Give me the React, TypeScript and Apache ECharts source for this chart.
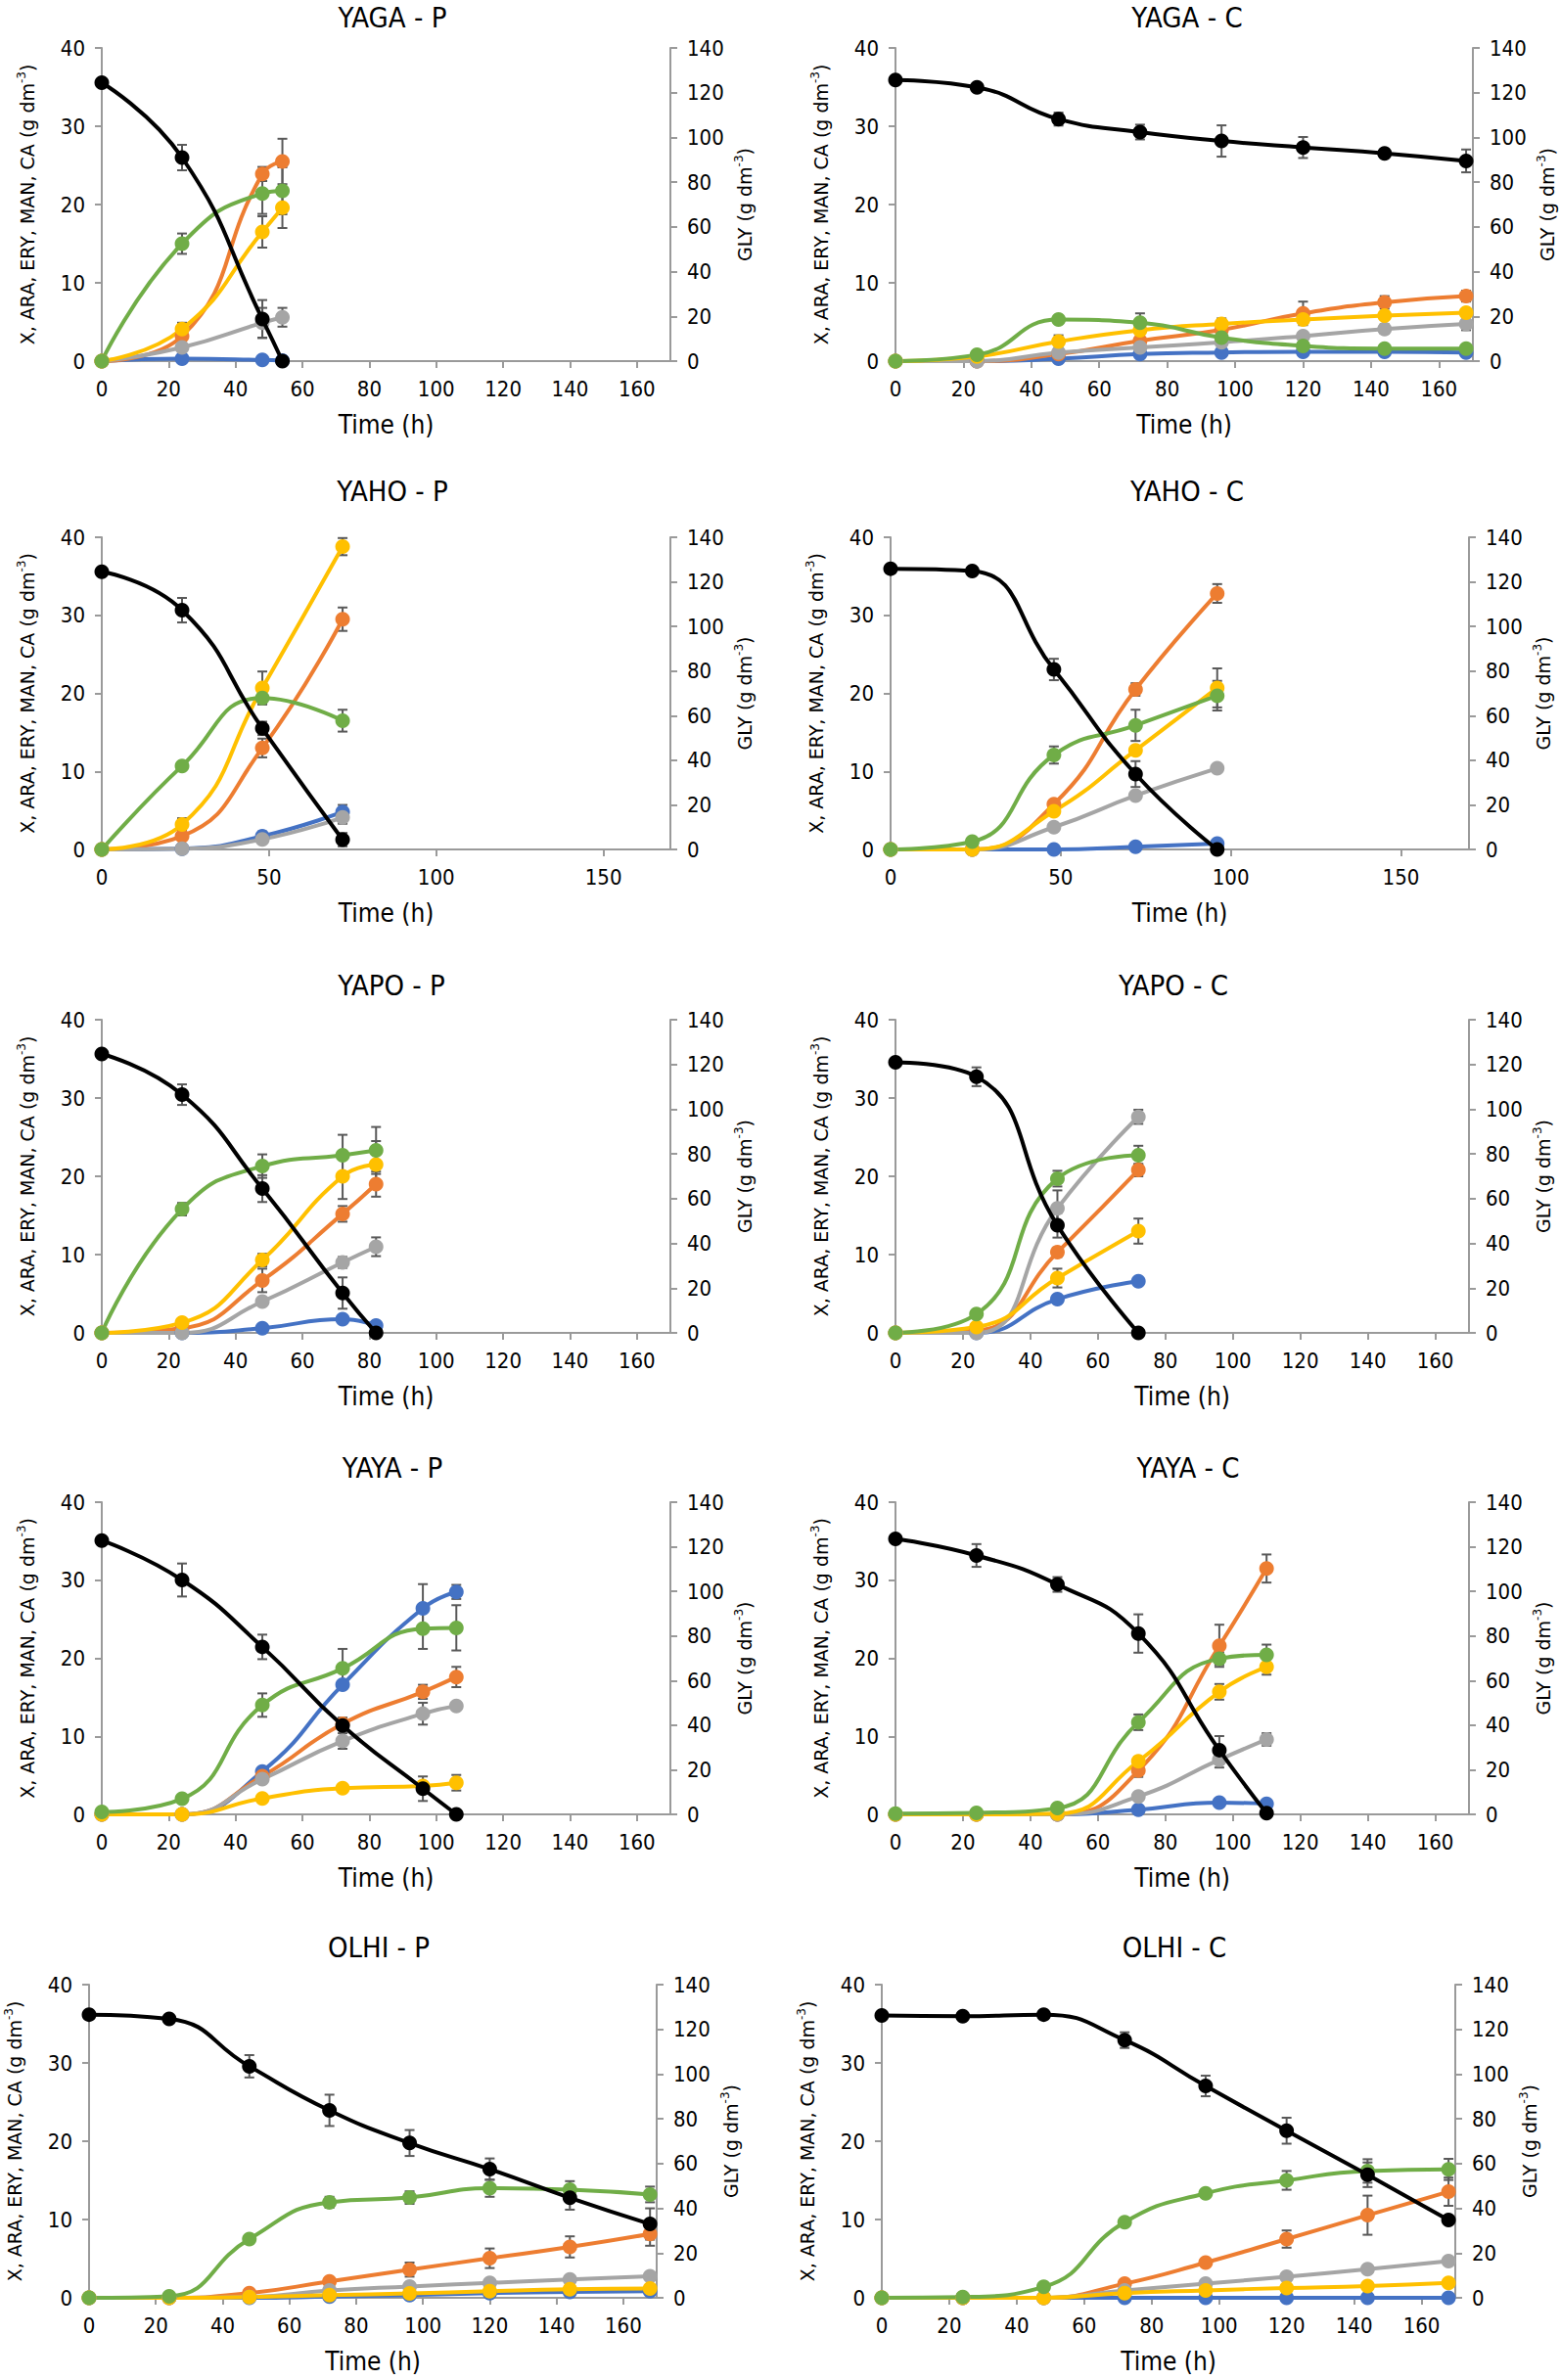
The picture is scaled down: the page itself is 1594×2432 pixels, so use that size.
import React, { useEffect, useRef } from "react";
import * as echarts from "echarts";

// ---------- tick labels ----------
const XT20 = [0, 20, 40, 60, 80, 100, 120, 140, 160];
const XT50 = [0, 50, 100, 150];
const TITLES = ["YAGA - P", "YAGA - C", "YAHO - P", "YAHO - C", "YAPO - P", "YAPO - C", "YAYA - P", "YAYA - C", "OLHI - P", "OLHI - C"];

// ---------- YAGA - P ----------
const YAGA_P_T = [0, 24, 48, 54];
const YAGA_P_B = [0, 0.3, 0.15, 0.05];
const YAGA_P_O = [0, 3.2, 23.9, 25.5];
const YAGA_P_G = [0, 1.75, 4.9, 5.6];
const YAGA_P_Y = [0, 4.1, 16.5, 19.6];
const YAGA_P_V = [0, 15.0, 21.4, 21.75];
const YAGA_P_K = [124.5, 91.0, 18.8, 0];
const YAGA_P_BE = [0, 0, 0, 0];
const YAGA_P_OE = [0, 0.6, 0.9, 2.9];
const YAGA_P_GE = [0, 0.3, 1.9, 1.2];
const YAGA_P_YE = [0, 0.8, 2.0, 2.6];
const YAGA_P_VE = [0, 1.3, 2.6, 3.0];
const YAGA_P_KE = [0, 5.7, 8.5, 0];

// ---------- YAGA - C ----------
const YAGA_C_T = [0, 24, 48, 72, 96, 120, 144, 168];
const YAGA_C_B = [0, 0, 0.3, 0.9, 1.1, 1.2, 1.2, 1.1];
const YAGA_C_O = [0, 0, 0.9, 2.6, 4.0, 6.1, 7.5, 8.3];
const YAGA_C_G = [0, 0, 1.1, 1.75, 2.4, 3.2, 4.1, 4.75];
const YAGA_C_Y = [0, 0.6, 2.5, 3.95, 4.75, 5.3, 5.8, 6.2];
const YAGA_C_V = [0, 0.8, 5.3, 4.9, 3.0, 1.95, 1.6, 1.6];
const YAGA_C_K = [125.7, 122.4, 108.2, 102.4, 98.4, 95.5, 92.9, 89.5];
const YAGA_C_BE = [0, 0, 0, 0, 0, 0, 0, 0];
const YAGA_C_OE = [0, 0, 0, 0.3, 0.5, 1.5, 0.8, 0.7];
const YAGA_C_GE = [0, 0, 0.3, 0.2, 0.3, 0.4, 0.6, 0.8];
const YAGA_C_YE = [0, 0, 0.8, 0.5, 0.7, 0.4, 0.4, 0.3];
const YAGA_C_VE = [0, 0, 0.3, 1.2, 0.4, 0.3, 0.5, 0.3];
const YAGA_C_KE = [0, 1, 2.9, 3.3, 7, 4.7, 2, 5.1];

// ---------- YAHO - P ----------
const YAHO_P_T = [0, 24, 48, 72];
const YAHO_P_B = [0, 0.1, 1.7, 4.8];
const YAHO_P_O = [0, 1.7, 13.0, 29.5];
const YAHO_P_G = [0, 0.1, 1.3, 4.1];
const YAHO_P_Y = [0, 3.2, 20.7, 38.8];
const YAHO_P_V = [0, 10.7, 19.4, 16.5];
const YAHO_P_K = [124.5, 107.3, 54.3, 4.4];
const YAHO_P_BE = [0, 0, 0.6, 0.9];
const YAHO_P_OE = [0, 0.4, 1.2, 1.5];
const YAHO_P_GE = [0, 0, 0.3, 0.8];
const YAHO_P_YE = [0, 0.8, 2.1, 1.1];
const YAHO_P_VE = [0, 0.3, 0.8, 1.4];
const YAHO_P_KE = [1.5, 5.5, 3, 3];

// ---------- YAHO - C ----------
const YAHO_C_T = [0, 24, 48, 72, 96];
const YAHO_C_B = [0, 0, 0, 0.35, 0.75];
const YAHO_C_O = [0, 0, 5.8, 20.5, 32.8];
const YAHO_C_G = [0, 0, 2.85, 6.9, 10.4];
const YAHO_C_Y = [0, 0, 4.9, 12.7, 20.7];
const YAHO_C_V = [0, 1.0, 12.1, 15.9, 19.7];
const YAHO_C_K = [125.9, 124.9, 80.7, 33.8, 0];
const YAHO_C_BE = [0, 0, 0, 0, 0];
const YAHO_C_OE = [0, 0, 0.3, 0.8, 1.2];
const YAHO_C_GE = [0, 0, 0.2, 0.3, 0.3];
const YAHO_C_YE = [0, 0, 0.3, 0.5, 2.5];
const YAHO_C_VE = [0, 0, 1.1, 2.0, 1.9];
const YAHO_C_KE = [1.5, 1, 4.8, 5.8, 0];

// ---------- YAPO - P ----------
const YAPO_P_T = [0, 24, 48, 72, 82];
const YAPO_P_B = [0, 0, 0.6, 1.75, 0.95];
const YAPO_P_O = [0, 0.6, 6.7, 15.2, 19.0];
const YAPO_P_G = [0, 0, 4.0, 9.0, 11.0];
const YAPO_P_Y = [0, 1.3, 9.3, 20.0, 21.5];
const YAPO_P_V = [0, 15.8, 21.3, 22.7, 23.3];
const YAPO_P_K = [124.7, 106.5, 64.5, 17.8, 0];
const YAPO_P_BE = [0, 0, 0, 0, 0];
const YAPO_P_OE = [0, 0.2, 1.5, 1.0, 1.6];
const YAPO_P_GE = [0, 0, 0.4, 0.7, 1.2];
const YAPO_P_YE = [0, 0.3, 0.8, 2.9, 3.0];
const YAPO_P_VE = [0, 0.8, 1.5, 2.6, 3.0];
const YAPO_P_KE = [0, 4.6, 6, 7, 0];

// ---------- YAPO - C ----------
const YAPO_C_T = [0, 24, 48, 72];
const YAPO_C_B = [0, 0, 4.3, 6.6];
const YAPO_C_O = [0, 0.3, 10.3, 20.8];
const YAPO_C_G = [0, 0, 15.9, 27.6];
const YAPO_C_Y = [0, 0.75, 7.0, 13.0];
const YAPO_C_V = [0, 2.4, 19.7, 22.7];
const YAPO_C_K = [121.0, 114.5, 48.1, 0];
const YAPO_C_BE = [0, 0, 0, 0];
const YAPO_C_OE = [0, 0, 0.6, 0.8];
const YAPO_C_GE = [0, 0, 2.3, 0.9];
const YAPO_C_YE = [0, 0, 1.2, 1.6];
const YAPO_C_VE = [0, 0.3, 1.0, 1.2];
const YAPO_C_KE = [0, 4.2, 5.5, 0];

// ---------- YAYA - P ----------
const YAYA_P_T = [0, 24, 48, 72, 96, 106];
const YAYA_P_B = [0, 0, 5.5, 16.6, 26.4, 28.5];
const YAYA_P_O = [0, 0, 4.9, 11.6, 15.7, 17.6];
const YAYA_P_G = [0, 0, 4.5, 9.4, 12.9, 13.9];
const YAYA_P_Y = [0, 0, 2.05, 3.35, 3.65, 4.05];
const YAYA_P_V = [0.3, 2.0, 14.0, 18.7, 23.8, 23.9];
const YAYA_P_K = [122.8, 105.1, 75.1, 39.8, 11.5, 0];
const YAYA_P_BE = [0, 0, 0.4, 0.5, 3.1, 0.9];
const YAYA_P_OE = [0, 0, 0.3, 0.8, 0.9, 1.3];
const YAYA_P_GE = [0, 0, 0.3, 1.0, 1.4, 0.3];
const YAYA_P_YE = [0, 0, 0.2, 0.3, 0.5, 1.0];
const YAYA_P_VE = [0, 0.2, 1.5, 2.5, 2.6, 2.9];
const YAYA_P_KE = [0, 7.4, 5.5, 2, 5.5, 0];

// ---------- YAYA - C ----------
const YAYA_C_T = [0, 24, 48, 72, 96, 110];
const YAYA_C_B = [0, 0, 0, 0.6, 1.5, 1.35];
const YAYA_C_O = [0, 0, 0, 5.6, 21.6, 31.5];
const YAYA_C_G = [0, 0, 0, 2.3, 7.0, 9.6];
const YAYA_C_Y = [0, 0, 0.1, 6.8, 15.7, 18.9];
const YAYA_C_V = [0.1, 0.2, 0.8, 11.8, 19.95, 20.45];
const YAYA_C_K = [123.5, 116.1, 103.1, 81.1, 28.8, 0.5];
const YAYA_C_BE = [0, 0, 0, 0, 0, 0];
const YAYA_C_OE = [0, 0, 0, 0.8, 2.7, 1.8];
const YAYA_C_GE = [0, 0, 0, 0.2, 1.0, 0.8];
const YAYA_C_YE = [0, 0, 0, 0.6, 1.0, 1.0];
const YAYA_C_VE = [0, 0, 0, 1.0, 0.8, 1.3];
const YAYA_C_KE = [0, 5.1, 3.3, 8.6, 6.3, 0];

// ---------- OLHI - P ----------
const OLHI_P_T = [0, 24, 48, 72, 96, 120, 144, 168];
const OLHI_P_B = [0, 0, 0, 0.15, 0.35, 0.6, 0.75, 0.85];
const OLHI_P_O = [0, 0, 0.6, 2.1, 3.6, 5.05, 6.5, 8.15];
const OLHI_P_G = [0, 0, 0.1, 0.95, 1.45, 1.9, 2.35, 2.75];
const OLHI_P_Y = [0, 0, 0.1, 0.35, 0.55, 0.85, 1.1, 1.2];
const OLHI_P_V = [0, 0.2, 7.5, 12.2, 12.8, 14.0, 13.8, 13.2];
const OLHI_P_K = [126.6, 124.7, 103.5, 83.8, 69.2, 57.5, 44.7, 33.0];
const OLHI_P_BE = [0, 0, 0, 0, 0, 0, 0, 0];
const OLHI_P_OE = [0, 0, 0.2, 0.3, 0.9, 1.25, 1.35, 1.5];
const OLHI_P_GE = [0, 0, 0, 0, 0, 0, 0, 0];
const OLHI_P_YE = [0, 0, 0, 0, 0, 0, 0, 0];
const OLHI_P_VE = [0, 0, 0.3, 0.7, 0.8, 1.1, 1.1, 1.0];
const OLHI_P_KE = [0, 0, 5, 7, 5.8, 4.8, 5.3, 7];

// ---------- OLHI - C ----------
const OLHI_C_T = [0, 24, 48, 72, 96, 120, 144, 168];
const OLHI_C_B = [0, 0, 0, 0, 0, 0, 0, 0];
const OLHI_C_O = [0, 0, 0, 1.8, 4.5, 7.5, 10.55, 13.55];
const OLHI_C_G = [0, 0, 0, 0.95, 1.8, 2.7, 3.65, 4.7];
const OLHI_C_Y = [0, 0, 0, 0.6, 0.95, 1.25, 1.5, 1.9];
const OLHI_C_V = [0, 0.1, 1.4, 9.65, 13.35, 15.0, 16.2, 16.4];
const OLHI_C_K = [126.2, 125.9, 126.6, 115.2, 94.7, 74.7, 55.0, 34.8];
const OLHI_C_BE = [0, 0, 0, 0, 0, 0, 0, 0];
const OLHI_C_OE = [0, 0, 0, 0.2, 0.3, 1.1, 2.5, 1.8];
const OLHI_C_GE = [0, 0, 0, 0, 0, 0, 0, 0];
const OLHI_C_YE = [0, 0, 0, 0, 0, 0, 0, 0];
const OLHI_C_VE = [0, 0, 0, 0.3, 0.4, 1.2, 1.5, 1.35];
const OLHI_C_KE = [0, 0, 0, 3.5, 4.6, 5.8, 5.5, 1.5];

// ---------- styling ----------
const COLORS = ["#4472C4", "#ED7D31", "#A5A5A5", "#FFC000", "#70AD47"];
const NAMES = ["ARA", "ERY", "MAN", "CA", "X"];
const AXIS_COLOR = "#9A9A9A";
const ERR_COLOR = "#595959";
const NARROW = "'DejaVu Sans Condensed', 'Liberation Sans Narrow', 'Liberation Sans', Arial, sans-serif";
const WIDE = "'DejaVu Sans', Verdana, sans-serif";

const LAYOUT = [
  { l: 104, r: 685, t: 49, b: 369, tx: 401, ty: 18 },
  { l: 915, r: 1506, t: 49, b: 369, tx: 1213, ty: 18 },
  { l: 104, r: 685, t: 549, b: 868, tx: 401, ty: 502 },
  { l: 910, r: 1501, t: 549, b: 868, tx: 1213, ty: 502 },
  { l: 104, r: 685, t: 1042, b: 1362, tx: 400, ty: 1007 },
  { l: 915, r: 1501, t: 1042, b: 1362, tx: 1199, ty: 1007 },
  { l: 104, r: 685, t: 1535, b: 1854, tx: 401, ty: 1500 },
  { l: 915, r: 1501, t: 1535, b: 1854, tx: 1214, ty: 1500 },
  { l: 91, r: 671, t: 2028, b: 2348, tx: 387, ty: 1990 },
  { l: 901, r: 1487, t: 2028, b: 2348, tx: 1200, ty: 1990 },
];

const PANELS = [
  { t: YAGA_P_T, ticks: XT20, v: [YAGA_P_B, YAGA_P_O, YAGA_P_G, YAGA_P_Y, YAGA_P_V], e: [YAGA_P_BE, YAGA_P_OE, YAGA_P_GE, YAGA_P_YE, YAGA_P_VE], k: YAGA_P_K, ke: YAGA_P_KE },
  { t: YAGA_C_T, ticks: XT20, v: [YAGA_C_B, YAGA_C_O, YAGA_C_G, YAGA_C_Y, YAGA_C_V], e: [YAGA_C_BE, YAGA_C_OE, YAGA_C_GE, YAGA_C_YE, YAGA_C_VE], k: YAGA_C_K, ke: YAGA_C_KE },
  { t: YAHO_P_T, ticks: XT50, v: [YAHO_P_B, YAHO_P_O, YAHO_P_G, YAHO_P_Y, YAHO_P_V], e: [YAHO_P_BE, YAHO_P_OE, YAHO_P_GE, YAHO_P_YE, YAHO_P_VE], k: YAHO_P_K, ke: YAHO_P_KE },
  { t: YAHO_C_T, ticks: XT50, v: [YAHO_C_B, YAHO_C_O, YAHO_C_G, YAHO_C_Y, YAHO_C_V], e: [YAHO_C_BE, YAHO_C_OE, YAHO_C_GE, YAHO_C_YE, YAHO_C_VE], k: YAHO_C_K, ke: YAHO_C_KE },
  { t: YAPO_P_T, ticks: XT20, v: [YAPO_P_B, YAPO_P_O, YAPO_P_G, YAPO_P_Y, YAPO_P_V], e: [YAPO_P_BE, YAPO_P_OE, YAPO_P_GE, YAPO_P_YE, YAPO_P_VE], k: YAPO_P_K, ke: YAPO_P_KE },
  { t: YAPO_C_T, ticks: XT20, v: [YAPO_C_B, YAPO_C_O, YAPO_C_G, YAPO_C_Y, YAPO_C_V], e: [YAPO_C_BE, YAPO_C_OE, YAPO_C_GE, YAPO_C_YE, YAPO_C_VE], k: YAPO_C_K, ke: YAPO_C_KE },
  { t: YAYA_P_T, ticks: XT20, v: [YAYA_P_B, YAYA_P_O, YAYA_P_G, YAYA_P_Y, YAYA_P_V], e: [YAYA_P_BE, YAYA_P_OE, YAYA_P_GE, YAYA_P_YE, YAYA_P_VE], k: YAYA_P_K, ke: YAYA_P_KE },
  { t: YAYA_C_T, ticks: XT20, v: [YAYA_C_B, YAYA_C_O, YAYA_C_G, YAYA_C_Y, YAYA_C_V], e: [YAYA_C_BE, YAYA_C_OE, YAYA_C_GE, YAYA_C_YE, YAYA_C_VE], k: YAYA_C_K, ke: YAYA_C_KE },
  { t: OLHI_P_T, ticks: XT20, v: [OLHI_P_B, OLHI_P_O, OLHI_P_G, OLHI_P_Y, OLHI_P_V], e: [OLHI_P_BE, OLHI_P_OE, OLHI_P_GE, OLHI_P_YE, OLHI_P_VE], k: OLHI_P_K, ke: OLHI_P_KE },
  { t: OLHI_C_T, ticks: XT20, v: [OLHI_C_B, OLHI_C_O, OLHI_C_G, OLHI_C_Y, OLHI_C_V], e: [OLHI_C_BE, OLHI_C_OE, OLHI_C_GE, OLHI_C_YE, OLHI_C_VE], k: OLHI_C_K, ke: OLHI_C_KE },
];

function errorBars(xi: number, yi: number, data: number[][], z: number) {
  return {
    type: "custom",
    xAxisIndex: xi,
    yAxisIndex: yi,
    z,
    silent: true,
    data,
    encode: { x: 0, y: 1 },
    renderItem: (_params: any, api: any) => {
      const t = api.value(0);
      const v = api.value(1);
      const e = api.value(2);
      if (!e) return null;
      const p1 = api.coord([t, v + e]);
      const p2 = api.coord([t, v - e]);
      const cw = 5;
      const st = { stroke: ERR_COLOR, lineWidth: 2 };
      return {
        type: "group",
        children: [
          { type: "line", shape: { x1: p1[0], y1: p1[1], x2: p2[0], y2: p2[1] }, style: st },
          { type: "line", shape: { x1: p1[0] - cw, y1: p1[1], x2: p1[0] + cw, y2: p1[1] }, style: st },
          { type: "line", shape: { x1: p2[0] - cw, y1: p2[1], x2: p2[0] + cw, y2: p2[1] }, style: st },
        ],
      };
    },
  };
}

function buildOption() {
  const grid: any[] = [];
  const xAxis: any[] = [];
  const yAxis: any[] = [];
  const series: any[] = [];
  const graphic: any[] = [];
  const axisLine = { show: true, onZero: false, lineStyle: { color: AXIS_COLOR, width: 2 } };
  const axisTick = { show: true, inside: false, length: 7, lineStyle: { color: AXIS_COLOR, width: 2 } };
  const labelStyle = { color: "#000", fontSize: 22, fontFamily: NARROW, margin: 17 };
  const supRich = {
    sup: { fontSize: 12, fontFamily: WIDE, color: "#000", verticalAlign: "top", lineHeight: 24 },
  };

  PANELS.forEach((p, i) => {
    const L = LAYOUT[i];
    grid.push({ left: L.l, top: L.t, width: L.r - L.l, height: L.b - L.t, containLabel: false });
    graphic.push({
      type: "text",
      x: L.tx,
      y: L.ty,
      style: { text: TITLES[i], fontSize: 29, fontFamily: NARROW, fill: "#000", textAlign: "center", textVerticalAlign: "middle" },
    });
    xAxis.push({
      gridIndex: i,
      type: "value",
      min: 0,
      max: 170,
      axisLine,
      axisTick: { ...axisTick, customValues: p.ticks },
      axisLabel: { ...labelStyle, customValues: p.ticks },
      splitLine: { show: false },
      name: "Time (h)",
      nameLocation: "middle",
      nameGap: 52,
      nameTextStyle: { color: "#000", fontSize: 26, fontFamily: NARROW },
    });
    yAxis.push({
      gridIndex: i,
      type: "value",
      position: "left",
      min: 0,
      max: 40,
      interval: 10,
      axisLine,
      axisTick,
      axisLabel: labelStyle,
      splitLine: { show: false },
      name: "X, ARA, ERY, MAN, CA (g dm{sup|-3})",
      nameLocation: "middle",
      nameRotate: 90,
      nameGap: 64,
      nameTextStyle: { color: "#000", fontSize: 19, fontFamily: WIDE, lineHeight: 24, rich: supRich },
    });
    yAxis.push({
      gridIndex: i,
      type: "value",
      position: "right",
      min: 0,
      max: 140,
      interval: 20,
      axisLine,
      axisTick,
      axisLabel: labelStyle,
      splitLine: { show: false },
      name: "GLY (g dm{sup|-3})",
      nameLocation: "middle",
      nameRotate: 90,
      nameGap: 64,
      nameTextStyle: { color: "#000", fontSize: 19, fontFamily: WIDE, lineHeight: 24, rich: supRich },
    });
    const ly = 2 * i;
    const ry = 2 * i + 1;
    const errL: number[][] = [];
    p.v.forEach((vals, s) => {
      vals.forEach((val, k) => errL.push([p.t[k], val, p.e[s][k]]));
    });
    series.push(errorBars(i, ly, errL, 2));
    series.push(errorBars(i, ry, p.k.map((val, k) => [p.t[k], val, p.ke[k]]), 2));
    p.v.forEach((vals, s) => {
      series.push({
        type: "line",
        name: NAMES[s],
        xAxisIndex: i,
        yAxisIndex: ly,
        data: vals.map((val, k) => [p.t[k], val]),
        smooth: 0.5,
        symbol: "circle",
        symbolSize: 15,
        showAllSymbol: true,
        lineStyle: { color: COLORS[s], width: 4 },
        itemStyle: { color: COLORS[s] },
        z: 3,
      });
    });
    series.push({
      type: "line",
      name: "GLY",
      xAxisIndex: i,
      yAxisIndex: ry,
      data: p.k.map((val, k) => [p.t[k], val]),
      smooth: 0.5,
      symbol: "circle",
      symbolSize: 15,
      showAllSymbol: true,
      lineStyle: { color: "#000", width: 4 },
      itemStyle: { color: "#000" },
      z: 4,
    });
  });

  return {
    animation: false,
    backgroundColor: "#fff",
    grid,
    xAxis,
    yAxis,
    series,
    graphic,
  };
}

export default function App() {
  const ref = useRef<HTMLDivElement>(null);
  useEffect(() => {
    if (!ref.current) return;
    const chart = echarts.init(ref.current, undefined, { renderer: "svg" });
    chart.setOption(buildOption() as any);
    return () => chart.dispose();
  }, []);
  return (
    <div
      ref={ref}
      style={{ position: "absolute", left: 0, top: 0, width: 1594, height: 2432, background: "#fff" }}
    />
  );
}
